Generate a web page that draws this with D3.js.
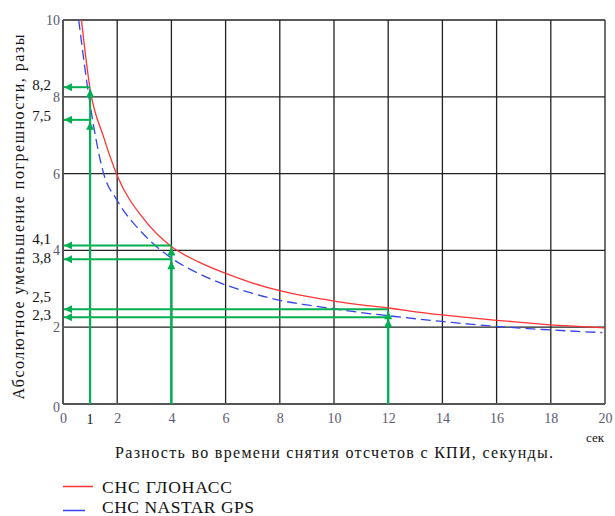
<!DOCTYPE html>
<html>
<head>
<meta charset="utf-8">
<script src="https://cdn.jsdelivr.net/npm/d3@7.9.0/dist/d3.min.js"></script>
<style>
  body { margin: 0; background: #fff; }
  svg { display: block; }
  svg text { font-family: "Liberation Serif", "Times New Roman", Times, "DejaVu Serif", serif !important; }
</style>
</head>
<body>
<div id="chart"></div>
<script>
// curve data
const glonassX = [0.68, 1, 1.5, 2, 3, 4, 5, 6, 7, 8, 9, 10, 11, 12, 13, 14, 15, 16, 17, 18, 19, 20];
const glonassY = [10, 8.2, 6.95, 5.95, 4.8, 4.1, 3.7, 3.4, 3.15, 2.95, 2.8, 2.68, 2.58, 2.5, 2.4, 2.32, 2.25, 2.18, 2.12, 2.06, 2.02, 1.98];
const gpsX = [0.58, 1, 1.5, 2, 3, 4, 5, 6, 7, 8, 9, 10, 11, 12, 13, 14, 15, 16, 17, 18, 19, 19.9];
const gpsY = [10, 7.8, 6.0, 5.3, 4.4, 3.8, 3.4, 3.1, 2.88, 2.7, 2.58, 2.48, 2.38, 2.3, 2.22, 2.15, 2.08, 2.02, 1.97, 1.93, 1.89, 1.86];

const xTicks = [0, 2, 4, 6, 8, 10, 12, 14, 16, 18, 20];
const yTicks = [0, 2, 4, 6, 8, 10];
const gridX = [2, 4, 6, 8, 10, 12, 14, 16, 18, 20];
const gridY = [2, 4, 6, 8, 10];

// green reading arrows: x of the vertical, level where it is read
const readX = [1, 1, 4, 4, 12, 12];
const readY = [8.25, 7.4, 4.13, 3.77, 2.47, 2.26];
const readLabels = ['8,2', '7,5', '4,1', '3,8', '2,5', '2,3'];
const readLabelY = [8.2, 7.5, 4.1, 3.8, 2.5, 2.3];

const yTitle = 'Абсолютное уменьшение погрешности, разы';
const xTitle = 'Разность во времени снятия отсчетов с КПИ, секунды.';
const legendNames = ['СНС ГЛОНАСС', 'СНС NASTAR GPS'];

const width = 615, height = 516;
const plot = { left: 63, right: 605, top: 20, bottom: 404 };

const svg = d3.select('#chart').append('svg')
  .attr('width', width).attr('height', height);

const x = d3.scaleLinear().domain([0, 20]).range([plot.left, plot.right]);
const y = d3.scaleLinear().domain([0, 10]).range([plot.bottom, plot.top]);

const green = '#00b050';
svg.append('defs').append('marker')
  .attr('id', 'arr')
  .attr('viewBox', '0 0 10 10')
  .attr('refX', 10).attr('refY', 5)
  .attr('markerUnits', 'userSpaceOnUse')
  .attr('markerWidth', 9).attr('markerHeight', 8)
  .attr('orient', 'auto')
  .append('path').attr('d', 'M0,0 L10,5 L0,10 Z').attr('fill', green);

// grid
const grid = svg.append('g');
grid.selectAll('line.gx').data(gridX).join('line')
  .attr('x1', d => x(d)).attr('x2', d => x(d))
  .attr('y1', y(0)).attr('y2', y(10))
  .attr('stroke', '#222').attr('stroke-width', 1.3);
grid.selectAll('line.gy').data(gridY).join('line')
  .attr('y1', d => y(d)).attr('y2', d => y(d))
  .attr('x1', x(0)).attr('x2', x(20))
  .attr('stroke', '#222').attr('stroke-width', 1.3);

// axis frame lines
svg.append('line').attr('x1', x(0)).attr('x2', x(0)).attr('y1', y(0)).attr('y2', y(10))
  .attr('stroke', '#555').attr('stroke-width', 2);
svg.append('line').attr('x1', x(0)).attr('x2', x(20)).attr('y1', y(0)).attr('y2', y(0))
  .attr('stroke', '#555').attr('stroke-width', 2);

// tick labels
const tickColor = '#5a5a6e';
const xAxis = svg.append('g').attr('transform', `translate(0,${plot.bottom + 7})`)
  .call(d3.axisBottom(x).tickValues(xTicks).tickSize(0).tickPadding(2));
xAxis.select('.domain').remove();
xAxis.attr('font-family', null);
xAxis.selectAll('text').attr('fill', tickColor).attr('font-size', 14);

const yAxis = svg.append('g').attr('transform', `translate(${plot.left - 2},0)`)
  .call(d3.axisLeft(y).tickValues(yTicks).tickSize(0).tickPadding(1));
yAxis.select('.domain').remove();
yAxis.attr('font-family', null);
yAxis.selectAll('text').attr('fill', tickColor).attr('font-size', 14);
yAxis.selectAll('.tick').filter(d => d === 0).select('text').attr('dy', '0.5em');

// extra "1" label
svg.append('text').attr('x', x(1)).attr('y', plot.bottom + 20)
  .attr('text-anchor', 'middle').attr('font-size', 14).attr('fill', '#111').text('1');

// curves
const line = d3.line().x(d => x(d[0])).y(d => y(d[1])).curve(d3.curveMonotoneX);
svg.append('path').datum(d3.zip(glonassX, glonassY))
  .attr('d', line).attr('fill', 'none').attr('stroke', '#ff3333').attr('stroke-width', 1.3);
svg.append('path').datum(d3.zip(gpsX, gpsY))
  .attr('d', line).attr('fill', 'none').attr('stroke', '#3344ee').attr('stroke-width', 1.3)
  .attr('stroke-dasharray', '10,5');

// green arrows
const reads = d3.zip(readX, readY);
const ag = svg.append('g').attr('stroke', green).attr('stroke-width', 2);
ag.selectAll('line.v').data(reads).join('line')
  .attr('x1', d => x(d[0])).attr('x2', d => x(d[0]))
  .attr('y1', y(0)).attr('y2', d => y(d[1]) + 2)
  .attr('marker-end', 'url(#arr)');
ag.selectAll('line.h').data(reads).join('line')
  .attr('x1', d => x(d[0])).attr('x2', x(0) + 1)
  .attr('y1', d => y(d[1])).attr('y2', d => y(d[1]))
  .attr('marker-end', 'url(#arr)');

// reading labels, nudged apart like in the original
const labelNudge = [1, 5, -3, 5, -6, 4];
svg.append('g').selectAll('text').data(readLabels).join('text')
  .attr('x', 51).attr('y', (d, i) => y(readLabelY[i]) + labelNudge[i])
  .attr('text-anchor', 'end').attr('font-size', 15).attr('fill', '#111')
  .text(d => d);

// titles
svg.append('text')
  .attr('transform', `translate(24,${(plot.top + plot.bottom) / 2 + 5}) rotate(-90)`)
  .attr('text-anchor', 'middle').attr('font-size', 16).attr('fill', '#111')
  .attr('textLength', 365).attr('lengthAdjust', 'spacing')
  .text(yTitle);
svg.append('text').attr('x', 334).attr('y', 458)
  .attr('text-anchor', 'middle').attr('font-size', 16).attr('fill', '#111')
  .attr('textLength', 438).attr('lengthAdjust', 'spacing')
  .text(xTitle);
svg.append('text').attr('x', 604).attr('y', 442)
  .attr('text-anchor', 'end').attr('font-size', 13).attr('fill', '#111').text('сек');

// legend
const legColors = ['#ff3333', '#3344ee'];
const legLen = [30, 22];
const legWidths = [130, 152];
const leg = svg.append('g');
leg.selectAll('line').data(legendNames).join('line')
  .attr('x1', 63).attr('x2', (d, i) => 63 + legLen[i])
  .attr('y1', (d, i) => 486.5 + i * 24).attr('y2', (d, i) => 486.5 + i * 24)
  .attr('stroke', (d, i) => legColors[i]).attr('stroke-width', 1.5);
leg.selectAll('text').data(legendNames).join('text')
  .attr('x', 102).attr('y', (d, i) => 493 + i * 19.5)
  .attr('font-size', 17.5).attr('fill', '#111')
  .attr('textLength', (d, i) => legWidths[i]).attr('lengthAdjust', 'spacing')
  .text(d => d);
</script>
</body>
</html>
